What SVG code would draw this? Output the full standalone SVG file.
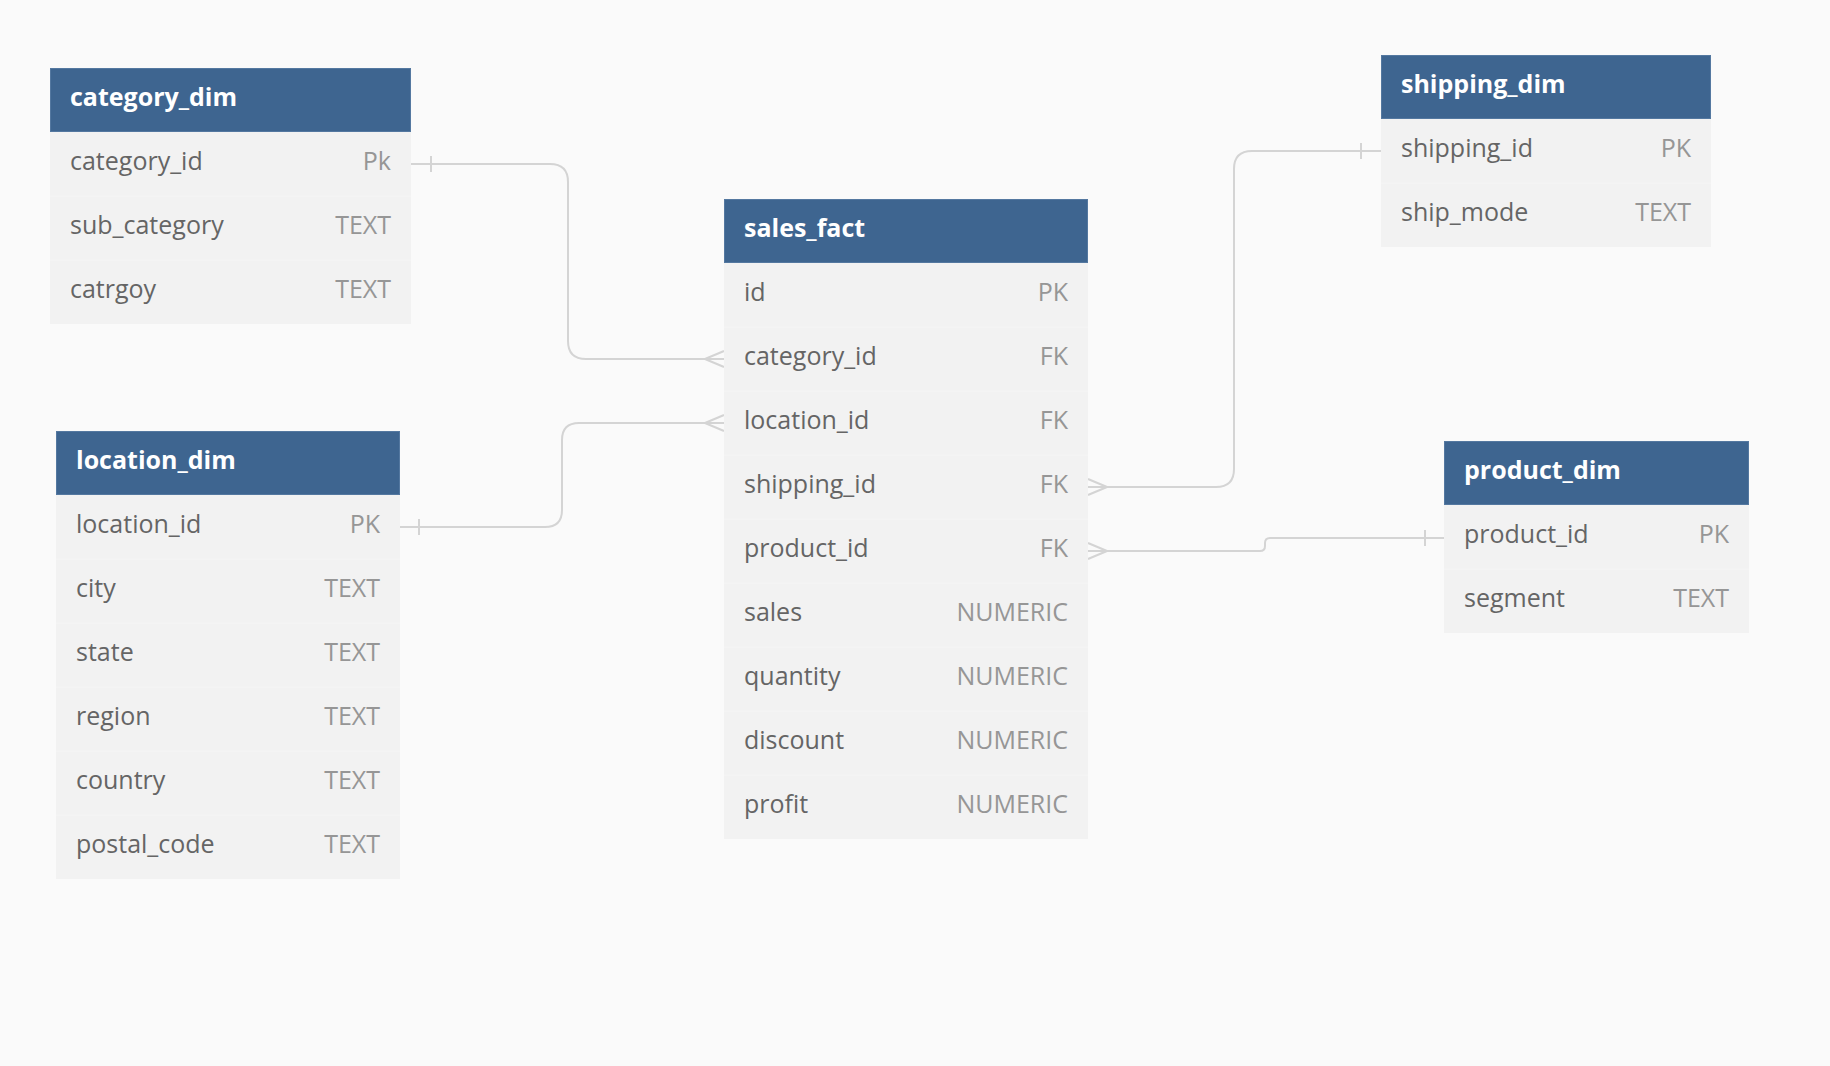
<svg xmlns="http://www.w3.org/2000/svg" width="1830" height="1066" viewBox="0 0 1830 1066">
<style>
.bg{fill:#fafafa}
.hdr{fill:#3e6590;stroke:#5478a0;stroke-width:1}
.body{fill:#f2f2f2}
.sep{stroke:#f5f5f5;stroke-width:1}
.title{font-family:"Open Sans","Noto Sans",sans-serif;font-weight:700;font-size:25px;fill:#ffffff}
.name{font-family:"Open Sans","Noto Sans",sans-serif;font-size:25px;fill:#656565}
.type{font-family:"Open Sans","Noto Sans",sans-serif;font-size:25px;fill:#969696;text-anchor:end}
.conn{fill:none;stroke:#d4d4d4;stroke-width:2}
</style>
<rect class="bg" x="0" y="0" width="1830" height="1066"/>

<g id="connectors">
  <path class="conn" d="M411,164 H550 Q568,164 568,182 V341 Q568,359 586,359 H724"/>
  <path class="conn" d="M431,156 V172"/>
  <path class="conn" d="M705,359 L724,351 M705,359 L724,359 M705,359 L724,367"/>

  <path class="conn" d="M400,527 H545 Q562,527 562,510 V440 Q562,423 579,423 H724"/>
  <path class="conn" d="M419,519 V535"/>
  <path class="conn" d="M705,423 L724,415 M705,423 L724,423 M705,423 L724,431"/>

  <path class="conn" d="M1088,487 H1216 Q1234,487 1234,469 V169 Q1234,151 1252,151 H1381"/>
  <path class="conn" d="M1361,143 V159"/>
  <path class="conn" d="M1107,487 L1088,479 M1107,487 L1088,487 M1107,487 L1088,495"/>

  <path class="conn" d="M1088,551 H1260 Q1265,551 1265,546 V543 Q1265,538 1270,538 H1444"/>
  <path class="conn" d="M1425,530 V546"/>
  <path class="conn" d="M1107,551 L1088,543 M1107,551 L1088,551 M1107,551 L1088,559"/>
</g>

<g id="category_dim">
  <rect class="body" x="50" y="132" width="361" height="192"/>
  <line class="sep" x1="50" y1="196" x2="411" y2="196"/>
  <line class="sep" x1="50" y1="260" x2="411" y2="260"/>
  <rect class="hdr" x="50.5" y="68.5" width="360" height="63"/>
  <text class="title" x="70" y="106">category_dim</text>
  <text class="name" x="70" y="170">category_id</text><text class="type" x="391" y="170">Pk</text>
  <text class="name" x="70" y="234">sub_category</text><text class="type" x="391" y="234">TEXT</text>
  <text class="name" x="70" y="298">catrgoy</text><text class="type" x="391" y="298">TEXT</text>
</g>

<g id="location_dim">
  <rect class="body" x="56" y="495" width="344" height="384"/>
  <line class="sep" x1="56" y1="559" x2="400" y2="559"/>
  <line class="sep" x1="56" y1="623" x2="400" y2="623"/>
  <line class="sep" x1="56" y1="687" x2="400" y2="687"/>
  <line class="sep" x1="56" y1="751" x2="400" y2="751"/>
  <line class="sep" x1="56" y1="815" x2="400" y2="815"/>
  <rect class="hdr" x="56.5" y="431.5" width="343" height="63"/>
  <text class="title" x="76" y="469">location_dim</text>
  <text class="name" x="76" y="533">location_id</text><text class="type" x="380" y="533">PK</text>
  <text class="name" x="76" y="597">city</text><text class="type" x="380" y="597">TEXT</text>
  <text class="name" x="76" y="661">state</text><text class="type" x="380" y="661">TEXT</text>
  <text class="name" x="76" y="725">region</text><text class="type" x="380" y="725">TEXT</text>
  <text class="name" x="76" y="789">country</text><text class="type" x="380" y="789">TEXT</text>
  <text class="name" x="76" y="853">postal_code</text><text class="type" x="380" y="853">TEXT</text>
</g>

<g id="sales_fact">
  <rect class="body" x="724" y="263" width="364" height="576"/>
  <line class="sep" x1="724" y1="327" x2="1088" y2="327"/>
  <line class="sep" x1="724" y1="391" x2="1088" y2="391"/>
  <line class="sep" x1="724" y1="455" x2="1088" y2="455"/>
  <line class="sep" x1="724" y1="519" x2="1088" y2="519"/>
  <line class="sep" x1="724" y1="583" x2="1088" y2="583"/>
  <line class="sep" x1="724" y1="647" x2="1088" y2="647"/>
  <line class="sep" x1="724" y1="711" x2="1088" y2="711"/>
  <line class="sep" x1="724" y1="775" x2="1088" y2="775"/>
  <rect class="hdr" x="724.5" y="199.5" width="363" height="63"/>
  <text class="title" x="744" y="237">sales_fact</text>
  <text class="name" x="744" y="301">id</text><text class="type" x="1068" y="301">PK</text>
  <text class="name" x="744" y="365">category_id</text><text class="type" x="1068" y="365">FK</text>
  <text class="name" x="744" y="429">location_id</text><text class="type" x="1068" y="429">FK</text>
  <text class="name" x="744" y="493">shipping_id</text><text class="type" x="1068" y="493">FK</text>
  <text class="name" x="744" y="557">product_id</text><text class="type" x="1068" y="557">FK</text>
  <text class="name" x="744" y="621">sales</text><text class="type" x="1068" y="621">NUMERIC</text>
  <text class="name" x="744" y="685">quantity</text><text class="type" x="1068" y="685">NUMERIC</text>
  <text class="name" x="744" y="749">discount</text><text class="type" x="1068" y="749">NUMERIC</text>
  <text class="name" x="744" y="813">profit</text><text class="type" x="1068" y="813">NUMERIC</text>
</g>

<g id="shipping_dim">
  <rect class="body" x="1381" y="119" width="330" height="128"/>
  <line class="sep" x1="1381" y1="183" x2="1711" y2="183"/>
  <rect class="hdr" x="1381.5" y="55.5" width="329" height="63"/>
  <text class="title" x="1401" y="93">shipping_dim</text>
  <text class="name" x="1401" y="157">shipping_id</text><text class="type" x="1691" y="157">PK</text>
  <text class="name" x="1401" y="221">ship_mode</text><text class="type" x="1691" y="221">TEXT</text>
</g>

<g id="product_dim">
  <rect class="body" x="1444" y="505" width="305" height="128"/>
  <line class="sep" x1="1444" y1="569" x2="1749" y2="569"/>
  <rect class="hdr" x="1444.5" y="441.5" width="304" height="63"/>
  <text class="title" x="1464" y="479">product_dim</text>
  <text class="name" x="1464" y="543">product_id</text><text class="type" x="1729" y="543">PK</text>
  <text class="name" x="1464" y="607">segment</text><text class="type" x="1729" y="607">TEXT</text>
</g>
</svg>
